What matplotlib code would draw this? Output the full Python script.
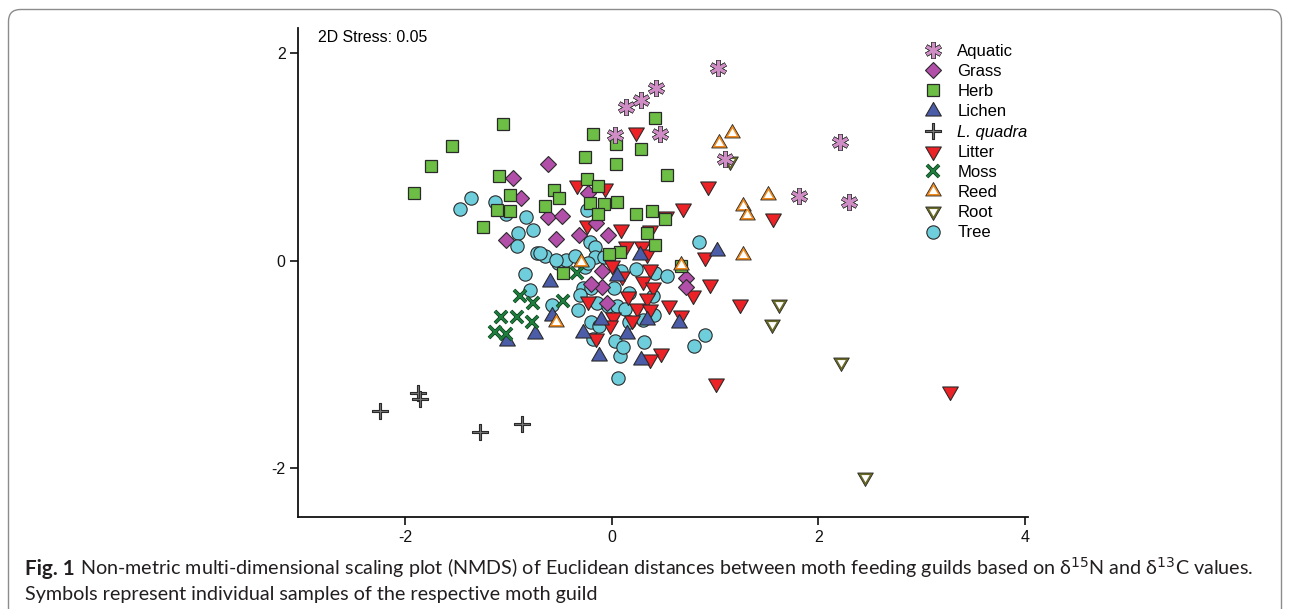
import numpy as np
import matplotlib
matplotlib.use("Agg")
import matplotlib.pyplot as plt
from matplotlib.path import Path
from matplotlib.legend_handler import HandlerTuple
from matplotlib.patches import FancyBboxPatch
from matplotlib.transforms import IdentityTransform

plt.rcParams['font.family'] = ['Liberation Sans', 'DejaVu Sans']

# ---------------- data (NMDS coordinates) ----------------
aquatic_x = [0.14, 0.28, 0.43, 0.03, 0.47, 1.03, 2.21, 1.81, 2.30, 1.10]
aquatic_y = [1.48, 1.55, 1.66, 1.21, 1.22, 1.85, 1.14, 0.62, 0.56, 0.98]

grass_x = [-0.62, -0.96, -0.88, -0.62, -0.48, -1.03, -0.54, -0.32, -0.04, -0.23,
           -0.15, -0.10, -0.10, -0.20, -0.05, 0.72, 0.72]
grass_y = [0.93, 0.80, 0.60, 0.42, 0.43, 0.20, 0.21, 0.25, 0.25, 0.65,
           0.36, -0.10, -0.25, -0.23, -0.41, -0.17, -0.25]

herb_x = [-1.05, -1.55, -1.75, -1.92, -1.25, -1.09, -0.99, -1.11, -0.99, -0.65,
          -0.56, -0.51, -0.26, -0.18, 0.04, 0.04, 0.42, 0.28, 0.53, -0.24,
          -0.13, -0.08, -0.21, -0.13, 0.05, 0.23, 0.39, 0.51, 0.34, 0.42,
          0.08, -0.03, 0.67, -0.47]
herb_y = [1.32, 1.10, 0.91, 0.65, 0.32, 0.81, 0.63, 0.49, 0.48, 0.53,
          0.68, 0.60, 1.00, 1.22, 1.12, 0.93, 1.37, 1.07, 0.82, 0.79,
          0.72, 0.54, 0.55, 0.45, 0.56, 0.45, 0.48, 0.40, 0.27, 0.15,
          0.08, 0.06, -0.05, -0.12]

lichen_x = [-0.60, -1.02, -0.74, -0.28, -0.12, 0.15, 0.28, -0.11, 0.05, 0.27,
            1.02, 0.65, 0.34, -0.58]
lichen_y = [-0.21, -0.77, -0.71, -0.70, -0.92, -0.71, -0.96, -0.57, -0.15, 0.05,
            0.09, -0.60, -0.57, -0.53]

quadra_x = [-2.25, -1.88, -1.86, -1.28, -0.87]
quadra_y = [-1.45, -1.28, -1.33, -1.65, -1.57]

litter_x = [0.23, -0.34, -0.07, -0.24, 0.09, 0.37, 0.52, 0.69, 0.93, 0.90,
            0.37, 0.00, 0.14, 0.29, 0.34, -0.23, 0.01, -0.02, -0.15, 0.16,
            0.10, 0.30, 0.40, 0.34, 0.24, 0.37, 0.55, 0.67, 0.79, 0.95,
            0.19, 0.48, 0.37, 1.01, 1.24, 1.56, 3.27]
litter_y = [1.24, 0.73, 0.70, 0.34, 0.30, 0.29, 0.43, 0.51, 0.72, 0.03,
            -0.08, -0.04, 0.14, 0.14, 0.06, -0.39, -0.54, -0.62, -0.75, -0.34,
            -0.15, -0.20, -0.25, -0.36, -0.46, -0.47, -0.43, -0.52, -0.33, -0.23,
            -0.57, -0.89, -0.95, -1.18, -0.42, 0.41, -1.26]

moss_x = [-0.89, -0.76, -0.47, -1.07, -0.92, -0.77, -1.13, -1.03, -0.34]
moss_y = [-0.34, -0.41, -0.39, -0.54, -0.54, -0.59, -0.69, -0.71, -0.12]

reed_x = [1.16, 1.04, 1.51, 1.27, 1.31, 1.27, -0.30, -0.54, 0.67]
reed_y = [1.23, 1.13, 0.63, 0.53, 0.44, 0.05, -0.01, -0.59, -0.04]

root_x = [1.14, 1.62, 1.55, 2.22, 2.45]
root_y = [0.96, -0.42, -0.61, -0.98, -2.08]

tree_x = [-1.47, -1.36, -1.13, -1.03, -0.83, -0.76, -0.91, -0.92, -0.73, -0.65,
          -0.84, -0.79, -0.58, -0.33, -0.52, -0.44, -0.36, -0.24, -0.21, -0.16,
          -0.16, -0.28, -0.20, -0.31, 0.02, 0.09, 0.23, 0.17, 0.42, 0.53,
          0.40, 0.30, 0.41, -0.14, -0.04, 0.05, 0.13, -0.20, -0.12, 0.03,
          0.08, 0.31, 0.80, 0.90, 0.84, 0.06, -0.18, -0.26, -0.23, 0.17,
          0.11, -0.08, -0.54, -0.70]
tree_y = [0.50, 0.60, 0.56, 0.45, 0.42, 0.29, 0.27, 0.14, 0.07, 0.04,
          -0.13, -0.28, -0.43, -0.48, -0.02, 0.01, 0.04, 0.49, 0.18, 0.13,
          0.03, -0.26, -0.26, -0.33, -0.26, -0.10, -0.08, -0.31, -0.12, -0.15,
          -0.34, -0.57, -0.52, -0.41, -0.44, -0.44, -0.47, -0.59, -0.63, -0.77,
          -0.92, -0.78, -0.82, -0.72, 0.18, -1.13, -0.76, -0.06, -0.02, -0.59,
          -0.83, 0.03, 0.01, 0.07]

legend_labels = ["Aquatic", "Grass", "Herb", "Lichen", "L. quadra", "Litter",
                 "Moss", "Reed", "Root", "Tree"]
x_ticks = [-2, 0, 2, 4]
y_ticks = [-2, 0, 2]
stress_label = "2D Stress: 0.05"

# ---------------- marker shapes ----------------
s3 = np.sqrt(3)
tri_up = Path([(0, 2 / s3), (-1, -1 / s3), (1, -1 / s3), (0, 2 / s3)],
              [Path.MOVETO, Path.LINETO, Path.LINETO, Path.CLOSEPOLY])
tri_dn = Path([(0, -2 / s3), (-1, 1 / s3), (1, 1 / s3), (0, -2 / s3)],
              [Path.MOVETO, Path.LINETO, Path.LINETO, Path.CLOSEPOLY])
w = 0.16
plus_verts = [(-w, 1), (w, 1), (w, w), (1, w), (1, -w), (w, -w), (w, -1), (-w, -1),
              (-w, -w), (-1, -w), (-1, w), (-w, w), (-w, 1)]
plus_path = Path(plus_verts, [Path.MOVETO] + [Path.LINETO] * 11 + [Path.CLOSEPOLY])

EDGE = '#2a2a2a'
C_AQ = '#D08CC4'
C_GR = '#B14FA9'
C_HE = '#6CBE45'
C_LI = '#4B5CA8'
C_LQ = '#777777'
C_LT = '#EC2227'
C_MO = '#1C7D3D'
C_RE = '#F08A1C'
C_RO = '#6B6A24'
C_TR = '#6FCEDC'

fig = plt.figure(figsize=(12.9, 6.09), dpi=100)
ax = fig.add_axes([298 / 1290, 92 / 609, 730 / 1290, 489 / 609])
ax.set_xlim(-3.04, 4.03)
ax.set_ylim(-2.47, 2.24)

kw = dict(ls='none')
h_tree, = ax.plot(tree_x, tree_y, marker='o', ms=9.6, mfc=C_TR, mec=EDGE, mew=0.8, **kw)
h_lit, = ax.plot(litter_x, litter_y, marker=tri_dn, ms=13, mfc=C_LT, mec=EDGE, mew=0.8, **kw)
h_gr, = ax.plot(grass_x, grass_y, marker='D', ms=8.0, mfc=C_GR, mec=EDGE, mew=0.8, **kw)
h_he, = ax.plot(herb_x, herb_y, marker='s', ms=9.2, mfc=C_HE, mec=EDGE, mew=0.9, **kw)
h_li, = ax.plot(lichen_x, lichen_y, marker=tri_up, ms=13, mfc=C_LI, mec=EDGE, mew=0.8, **kw)
h_mo1, = ax.plot(moss_x, moss_y, marker='x', ms=9.3, mec='#123f20', mew=2.7, **kw)
h_mo2, = ax.plot(moss_x, moss_y, marker='x', ms=8.9, mec=C_MO, mew=1.6, **kw)
h_re1, = ax.plot(reed_x, reed_y, marker=tri_up, ms=13, mfc=C_RE, mec=EDGE, mew=0.6, **kw)
h_re2, = ax.plot(reed_x, reed_y, marker=tri_up, ms=7.2, mfc='white', mec='none', **kw)
h_ro1, = ax.plot(root_x, root_y, marker=tri_dn, ms=13, mfc=C_RO, mec=EDGE, mew=0.6, **kw)
h_ro2, = ax.plot(root_x, root_y, marker=tri_dn, ms=7.0, mfc='white', mec='none', **kw)
h_aq1, = ax.plot(aquatic_x, aquatic_y, marker=(6, 2, 0), ms=12, mec='#444444', mew=3.2, **kw)
h_aq2, = ax.plot(aquatic_x, aquatic_y, marker=(6, 2, 0), ms=11, mec=C_AQ, mew=1.8, **kw)
h_lq, = ax.plot(quadra_x, quadra_y, marker=plus_path, ms=12, mfc=C_LQ, mec=EDGE, mew=0.8, **kw)

for sp in ['top', 'right']:
    ax.spines[sp].set_visible(False)
for sp in ['left', 'bottom']:
    ax.spines[sp].set_linewidth(1.3)
    ax.spines[sp].set_color('#111111')
ax.set_xticks(x_ticks)
ax.set_xticklabels([str(t) for t in x_ticks])
ax.set_yticks(y_ticks)
ax.set_yticklabels([str(t) for t in y_ticks])
ax.tick_params(direction='out', length=6, width=1.2, labelsize=11.5, pad=3, colors='#111111')

fig.text(318 / 1290, 1 - 37 / 609, stress_label, fontsize=11.4, va='center', ha='left')

handles = [(h_aq1, h_aq2), h_gr, h_he, h_li, h_lq, h_lit, (h_mo1, h_mo2),
           (h_re1, h_re2), (h_ro1, h_ro2), h_tree]
leg = ax.legend(handles, legend_labels, loc='upper left',
                bbox_to_anchor=(923 / 1290, 1 - 44 / 609), bbox_transform=fig.transFigure,
                frameon=False, fontsize=12, handlelength=1.2, handletextpad=0.85,
                labelspacing=0.31, borderpad=0, borderaxespad=0,
                handler_map={tuple: HandlerTuple(ndivide=1)})
leg.get_texts()[4].set_style('italic')

frame = FancyBboxPatch((8.5, -30), 1273, 629.5, boxstyle="round,pad=0,rounding_size=12",
                       transform=IdentityTransform(), fill=False, ec='#8c8c8c', lw=1.0)
fig.patches.append(frame)

cap_fam = ['Lato', 'DejaVu Sans']
cap1_b = "Fig. 1"
cap1_r = (" Non-metric multi-dimensional scaling plot (NMDS) of Euclidean distances between moth "
          "feeding guilds based on δ$^{15}$N and δ$^{13}$C values.")
cap2 = "Symbols represent individual samples of the respective moth guild"

renderer = fig.canvas.get_renderer()
fs = 12.0
tb = fig.text(25 / 1290, 1 - 575 / 609, cap1_b, fontsize=fs, fontweight='bold',
              family=cap_fam, va='baseline', color='#231F20')
tr = fig.text(0, 1 - 575 / 609, cap1_r, fontsize=fs, family=cap_fam, va='baseline', color='#231F20')
wb = tb.get_window_extent(renderer).width
wr = tr.get_window_extent(renderer).width
scale = (1252 - 25) / (wb + wr)
fs2 = fs * scale
tb.set_fontsize(fs2 * 1.05)
tr.set_fontsize(fs2)
wb = tb.get_window_extent(renderer).width
wr = tr.get_window_extent(renderer).width
tr.set_fontsize(fs2 * (1252 - 25 - wb) / wr)
tr.set_x((25 + wb) / 1290)
fig.text(25 / 1290, 1 - 600 / 609, cap2, fontsize=fs2, family=cap_fam, va='baseline', color='#231F20')

fig.savefig('out.png', dpi=100)
